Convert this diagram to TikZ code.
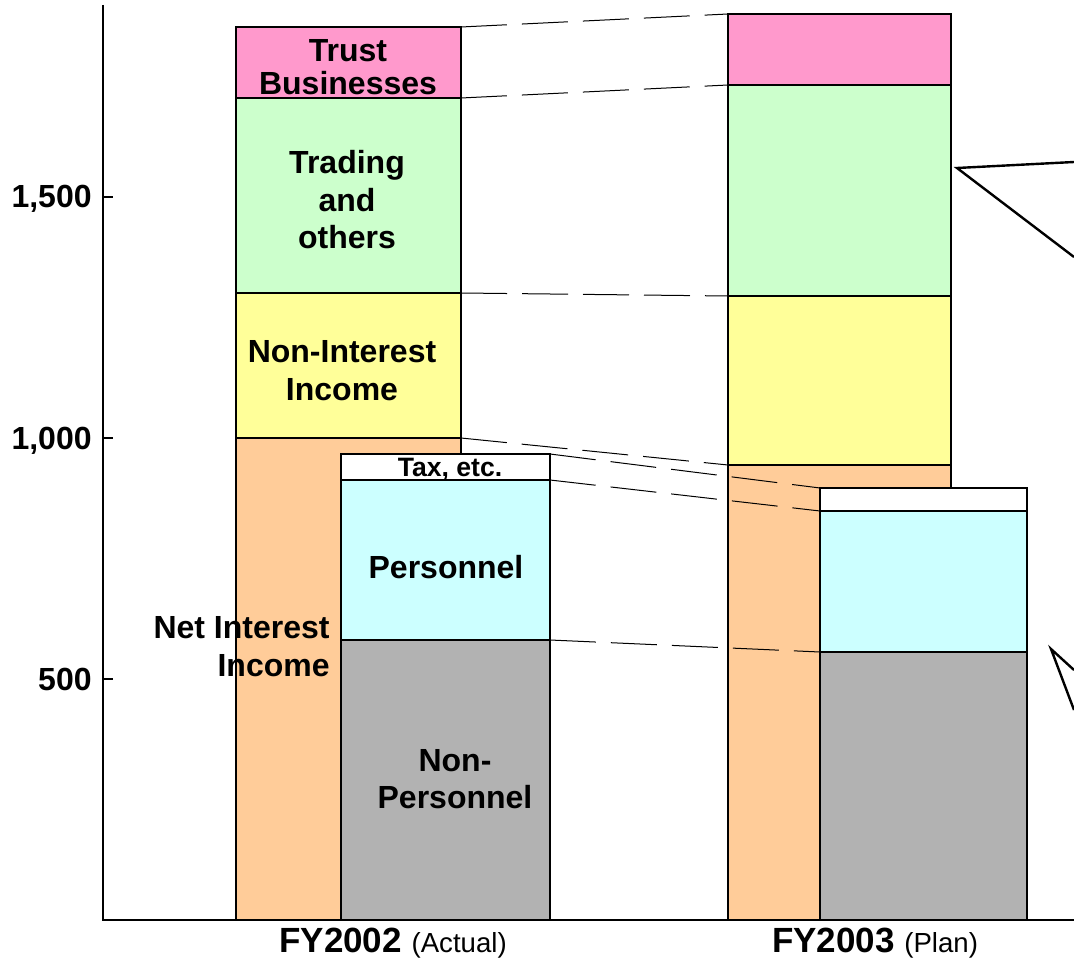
\documentclass[tikz,border=0pt]{standalone}
\usepackage{fontspec}
\setmainfont{Liberation Sans}
\definecolor{trustpink}{RGB}{255,153,204}
\definecolor{tradegreen}{RGB}{204,255,204}
\definecolor{nonintyellow}{RGB}{255,255,153}
\definecolor{netintorange}{RGB}{255,204,153}
\definecolor{perscyan}{RGB}{204,255,255}
\definecolor{nonpersgray}{RGB}{178,178,178}
\begin{document}
\begin{tikzpicture}[x=1pt,y=1pt]
\tikzstyle{segment}=[draw,line width=0.7pt,outer sep=0pt,inner sep=0pt,anchor=south west];
\tikzstyle{seglabel}=[inner sep=0pt,align=center,font=\fontsize{16}{18.75}\selectfont\bfseries];
\tikzstyle{ticklabel}=[inner sep=0pt,anchor=base east,font=\fontsize{16}{18}\selectfont\bfseries];
\tikzstyle{link}=[dash pattern=on 23pt off 7.5pt,line width=0.5pt];

\useasboundingbox (-51.5,-22.5) rectangle (485.5,460);

% bars: FY2002 then FY2003
\foreach \seg/\col/\x/\w/\lo/\hi in {
  niiA/netintorange/66.5/112.5/0/241, nonintA/nonintyellow/66.5/112.5/241/313.5,
  tradingA/tradegreen/66.5/112.5/313.5/411, trustA/trustpink/66.5/112.5/411/446.5,
  nonpersA/nonpersgray/119/104.5/0/140, persA/perscyan/119/104.5/140/220,
  taxA/white/119/104.5/220/233,
  niiB/netintorange/312.5/111.5/0/227.5, nonintB/nonintyellow/312.5/111.5/227.5/312,
  tradingB/tradegreen/312.5/111.5/312/417.5, trustB/trustpink/312.5/111.5/417.5/453,
  nonpersB/nonpersgray/358.5/103.5/0/134, persB/perscyan/358.5/103.5/134/204.5,
  taxB/white/358.5/103.5/204.5/216}
\node[segment,fill=\col,minimum width=\w pt,minimum height={(\hi-\lo)*1pt}] (\seg) at (\x,\lo) {};

\foreach \from/\to in {trustA.north east/trustB.north west, trustA.south east/tradingB.north west,
  tradingA.south east/nonintB.north west, niiA.north east/niiB.north west,
  taxA.north east/taxB.north west, persA.north east/persB.north west,
  nonpersA.north east/nonpersB.north west}
\draw[link] (\from) -- (\to);

% axes
\coordinate (origin) at (0,0);
\coordinate (ytop) at (0,457.5);
\coordinate (xend) at (485.5,0);
\draw[line width=0.9pt] (ytop) -- (origin) -- (xend);
\foreach \v in {120.5,241,361.5}
\draw[line width=0.9pt] (0,\v) -- (5,\v);
\node[ticklabel] (t500) at (-5.5,115) {500};
\node[ticklabel] (t1000) at (-5.5,235.5) {1,000};
\node[ticklabel] (t1500) at (-5.5,356) {1,500};

\node[seglabel,font=\fontsize{16}{16.5}\selectfont\bfseries] (trustlbl) at (122.5,426.5) {Trust\\Businesses};
\node[seglabel] (tradinglbl) at (122,360) {Trading\\and\\others};
\node[seglabel] (nonintlbl) at (119.5,274.75) {Non-Interest\\Income};
\node[seglabel,align=right,anchor=east] (niilbl) at (113.5,136.75) {Net Interest\\Income};
\node[seglabel,font=\fontsize{13.3}{15}\selectfont\bfseries] (taxlbl) at (173.5,225.5) {Tax, etc.};
\node[seglabel] (perslbl) at (171.5,176.5) {Personnel};
\node[seglabel] (nonperslbl) at (176,70.5) {Non-\\Personnel};

\node[seglabel,anchor=base,font=\fontsize{17.5}{20}\selectfont\bfseries] (fy02) at (145,-16)
  {FY2002 {\fontsize{13.8}{16}\selectfont\mdseries (Actual)}};
\node[seglabel,anchor=base,font=\fontsize{17.5}{20}\selectfont\bfseries] (fy03) at (386,-16)
  {FY2003 {\fontsize{13.8}{16}\selectfont\mdseries (Plan)}};

% callout pointers, cut at the right edge
\coordinate (tipA) at (427,376);
\coordinate (tipB) at (474,135.5);
\draw[line width=1.2pt] (485.5,379) -- (tipA) -- (485.5,331.5);
\draw[line width=1.2pt] (485.5,125) -- (tipB) -- (485.5,105);
\end{tikzpicture}
\end{document}
